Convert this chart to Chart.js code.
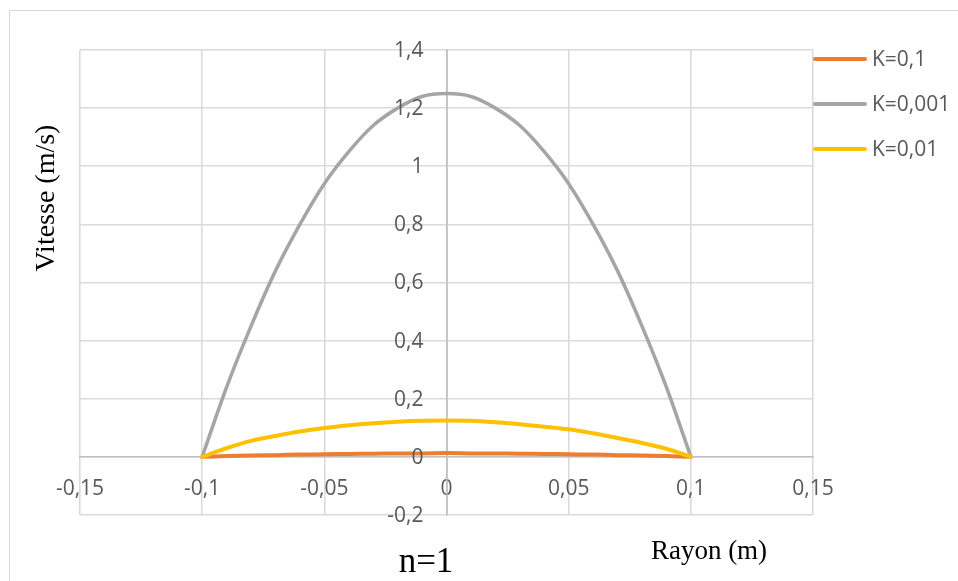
<!DOCTYPE html>
<html lang="fr">

<head>
    <meta charset="UTF-8">
    <title>Vitesse n=1</title>
    <script src="https://cdn.jsdelivr.net/npm/chart.js@4.4.0/dist/chart.umd.min.js"></script>
    <style>
        html, body { margin: 0; padding: 0; background: #fff; }
        #cadre { width: 958px; height: 581px; }
    </style>
</head>

<body>
    <div id="cadre"><canvas id="graphe"></canvas></div>

    <script>
        // rayon (m)
        const rayon = [-0.1, -0.09, -0.08, -0.07, -0.06, -0.05, -0.04, -0.03, -0.02, -0.01, 0,
                       0.01, 0.02, 0.03, 0.04, 0.05, 0.06, 0.07, 0.08, 0.09, 0.1];

        // vitesse (m/s) pour chaque K
        const vitesseK01 = [0, 0.003, 0.005, 0.006, 0.008, 0.009, 0.010, 0.011, 0.012, 0.012, 0.013,
                            0.012, 0.012, 0.011, 0.010, 0.009, 0.008, 0.006, 0.005, 0.003, 0];
        const vitesseK0001 = [0, 0.24, 0.45, 0.64, 0.80, 0.94, 1.05, 1.14, 1.20, 1.24, 1.25,
                              1.24, 1.20, 1.14, 1.05, 0.94, 0.80, 0.64, 0.45, 0.24, 0];
        const vitesseK001 = [0, 0.030, 0.055, 0.072, 0.087, 0.099, 0.109, 0.116, 0.121, 0.124, 0.125,
                             0.124, 0.119, 0.112, 0.104, 0.095, 0.081, 0.065, 0.048, 0.028, 0];

        const series = ['K=0,1', 'K=0,001', 'K=0,01'];

        // étiquettes des axes
        const xTickLabels = ['-0,15', '-0,1', '-0,05', '0', '0,05', '0,1', '0,15'];
        const yTickLabels = ['-0,2', '0', '0,2', '0,4', '0,6', '0,8', '1', '1,2', '1,4'];

        const points = (v) => rayon.map((r, i) => ({ x: r, y: v[i] }));

        // cadre, étiquettes Y, légende et titres
        const decor = {
            id: 'decor',
            beforeDraw(chart) {
                const c = chart.ctx;
                c.save();
                c.fillStyle = '#fff';
                c.fillRect(0, 0, chart.width, chart.height);
                c.strokeStyle = '#d9d9d9';
                c.lineWidth = 1;
                c.strokeRect(9.5, 10.5, chart.width + 20, chart.height + 20);
                c.restore();
            },
            afterDraw(chart) {
                const c = chart.ctx;
                const a = chart.chartArea;
                const sx = chart.scales.x;
                const sy = chart.scales.y;
                c.save();

                // étiquettes de l'axe Y, à gauche de la droite x = 0
                c.font = '21px "Open Sans"';
                c.fillStyle = '#595959';
                c.textAlign = 'right';
                c.textBaseline = 'middle';
                const x0 = sx.getPixelForValue(0) - 23;
                sy.ticks.forEach((t, i) => {
                    c.fillText(yTickLabels[i], x0, sy.getPixelForValue(t.value) + 1);
                });

                // légende
                c.textAlign = 'left';
                chart.data.datasets.forEach((ds, i) => {
                    const y = a.top + 9 + i * 45;
                    c.strokeStyle = ds.borderColor;
                    c.lineWidth = 4;
                    c.lineCap = 'round';
                    c.beginPath();
                    c.moveTo(a.right + 2, y);
                    c.lineTo(a.right + 52, y);
                    c.stroke();
                    c.fillStyle = '#595959';
                    c.fillText(ds.label, a.right + 59, y + 1);
                });

                // titres
                c.fillStyle = '#000';
                c.textBaseline = 'alphabetic';
                c.textAlign = 'center';
                c.font = '27px "Liberation Serif"';
                c.fillText('Rayon (m)', 709, 559);
                c.font = '35px "Liberation Serif"';
                c.fillText('n=1', 426, 572);

                c.translate(47, 198);
                c.rotate(-Math.PI / 2);
                c.textBaseline = 'middle';
                c.font = '28px "Liberation Serif"';
                c.fillText('Vitesse (m/s)', 0, 0);
                c.restore();
            }
        };

        const grille = (ctx) => (ctx.tick && ctx.tick.value === 0) ? '#c0c0c0' : '#dadada';
        const policeTicks = { family: 'Open Sans', size: 21 };

        new Chart(document.getElementById('graphe'), {
            type: 'line',
            data: {
                datasets: [
                    { label: series[0], data: points(vitesseK01), borderColor: '#ED7D31', borderWidth: 4, order: 3 },
                    { label: series[1], data: points(vitesseK0001), borderColor: '#A5A5A5', borderWidth: 3.5, order: 2 },
                    { label: series[2], data: points(vitesseK001), borderColor: '#FFC000', borderWidth: 4, order: 1 }
                ]
            },
            options: {
                responsive: true,
                maintainAspectRatio: false,
                animation: false,
                layout: { padding: { left: 80, top: 50, right: 145, bottom: 66 } },
                elements: {
                    point: { radius: 0 },
                    line: { tension: 0.3, borderCapStyle: 'round', borderJoinStyle: 'round' }
                },
                plugins: {
                    legend: { display: false },
                    tooltip: { enabled: false }
                },
                scales: {
                    x: {
                        type: 'linear',
                        min: -0.15,
                        max: 0.15,
                        position: { y: 0 },
                        grid: { color: grille, drawTicks: false, lineWidth: 1.6 },
                        border: { color: '#c0c0c0', width: 1.6 },
                        ticks: {
                            stepSize: 0.05,
                            padding: 20,
                            color: '#595959',
                            font: policeTicks,
                            maxRotation: 0,
                            callback: (v, i) => xTickLabels[i]
                        }
                    },
                    y: {
                        type: 'linear',
                        min: -0.2,
                        max: 1.4,
                        position: { x: 0 },
                        grid: { color: grille, drawTicks: false, lineWidth: 1.6 },
                        border: { color: '#c0c0c0', width: 1.6 },
                        ticks: {
                            stepSize: 0.2,
                            display: false
                        }
                    }
                }
            },
            plugins: [decor]
        });
    </script>
</body>

</html>
